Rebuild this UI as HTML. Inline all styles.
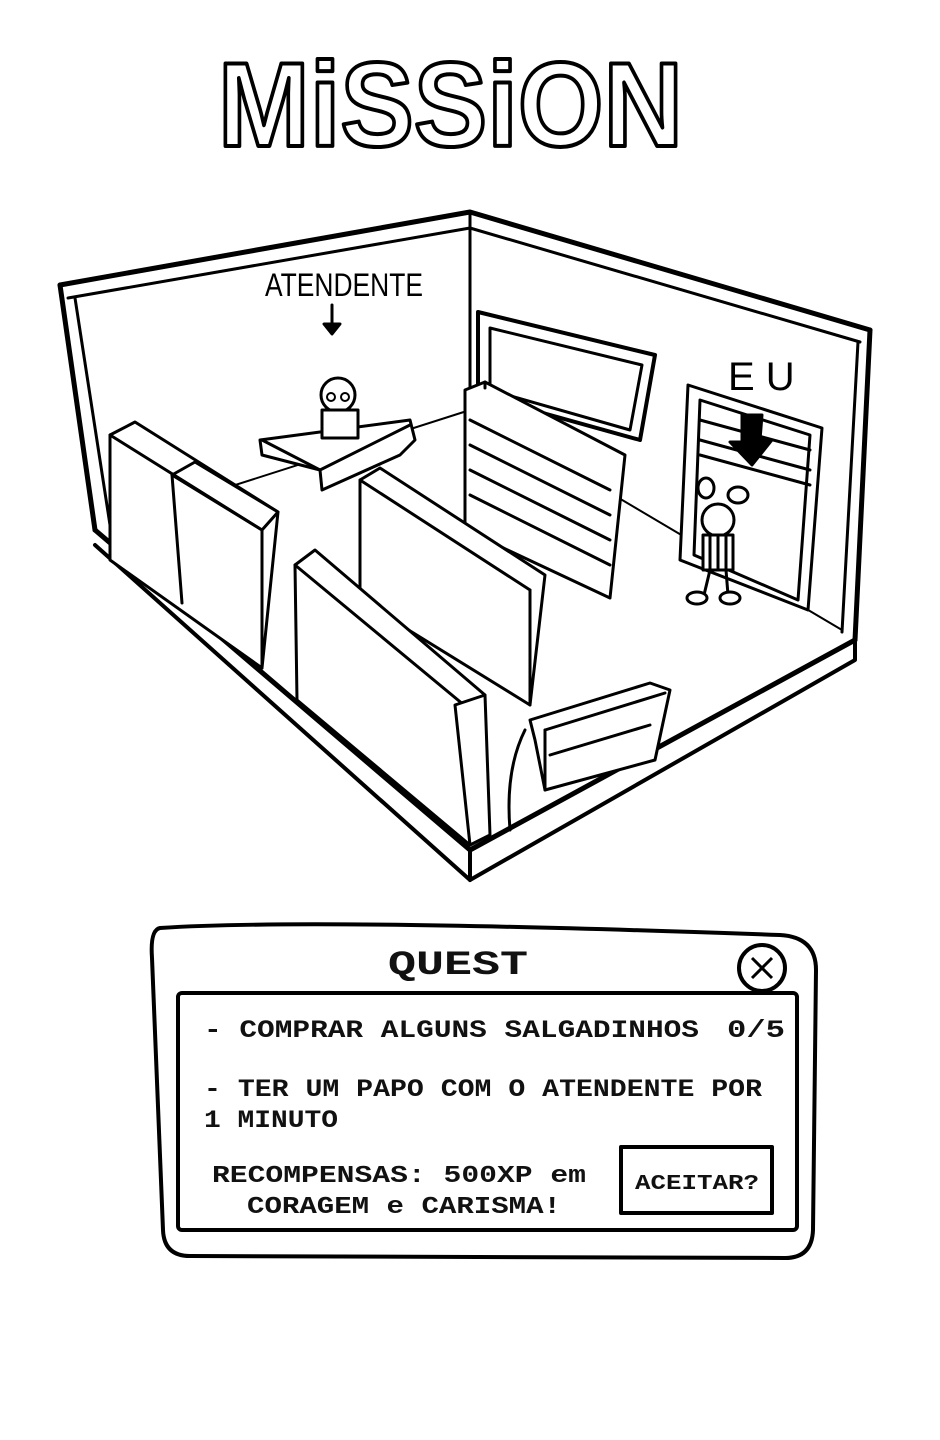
<!DOCTYPE html>
<html><head><meta charset="utf-8"><style>
html,body{margin:0;padding:0;background:#fff;width:940px;height:1440px;overflow:hidden}
svg{display:block}
.t{font-family:"Liberation Mono",monospace;font-weight:bold;fill:#111}
</style></head><body>
<svg width="940" height="1440" viewBox="0 0 940 1440" xmlns="http://www.w3.org/2000/svg">
<g fill="#fff" stroke="#000" stroke-width="3" stroke-linejoin="round" stroke-linecap="round">
<text x="218" y="146" textLength="465" lengthAdjust="spacingAndGlyphs" font-family="Liberation Sans,sans-serif" font-weight="bold" font-size="120" fill="#fff" stroke="#000" stroke-width="4">MiSSiON</text>

<polygon points="60,285 470,212 870,330 855,640 470,850 95,530" fill="#fff" stroke="none"/>
<polyline points="60,285 470,212 870,330" fill="none" stroke-width="5"/>
<polyline points="68,298 470,228 860,342" fill="none"/>
<line x1="60" y1="285" x2="95" y2="530" stroke-width="5"/>
<line x1="75" y1="298" x2="110" y2="525"/>
<line x1="870" y1="330" x2="855" y2="640" stroke-width="5"/>
<line x1="858" y1="342" x2="842" y2="632"/>
<line x1="470" y1="212" x2="470" y2="415" stroke-width="3"/>
<polyline points="95,530 470,850 855,640" fill="none" stroke-width="5"/>
<polyline points="95,545 470,880 470,850" fill="none" stroke-width="4"/>
<polyline points="470,880 855,660 855,640" fill="none" stroke-width="4"/>
<polyline points="110,525 470,410 842,630" fill="none" stroke-width="2"/>

<polygon points="478,312 655,355 640,440 478,395" stroke-width="4"/>
<polygon points="490,328 642,365 630,430 490,390"/>
<polygon points="688,385 822,428 808,610 680,560"/>
<polygon points="700,400 810,435 798,600 694,555"/>
<line x1="700" y1="420" x2="810" y2="450"/><line x1="700" y1="440" x2="810" y2="470"/><line x1="700" y1="455" x2="810" y2="485"/>

<polygon points="260,440 410,420 415,440 400,455 322,490 320,470 262,455"/>
<line x1="262" y1="440" x2="320" y2="470"/><line x1="320" y1="470" x2="410" y2="425"/>
<circle cx="338" cy="395" r="17"/>
<rect x="322" y="410" width="36" height="28"/>
<circle cx="331" cy="397" r="4" fill="none" stroke-width="2"/><circle cx="345" cy="397" r="4" fill="none" stroke-width="2"/>

<polygon points="465,390 485,382 625,455 610,598 465,530"/>
<line x1="485" y1="382" x2="485" y2="388"/>
<line x1="470" y1="420" x2="610" y2="490"/><line x1="470" y1="445" x2="610" y2="515"/><line x1="470" y1="470" x2="610" y2="540"/><line x1="470" y1="495" x2="610" y2="565"/>

<polygon points="110,435 135,422 278,512 262,668 110,560"/>
<line x1="172" y1="475" x2="182" y2="603"/>
<polygon points="172,475 195,462 278,512 262,530"/>
<line x1="110" y1="435" x2="262" y2="530"/><line x1="262" y1="530" x2="262" y2="668"/>

<polygon points="360,480 380,468 545,575 530,705 360,600"/>
<line x1="360" y1="480" x2="530" y2="590"/><line x1="530" y1="590" x2="530" y2="705"/>
<polygon points="295,565 315,550 485,695 470,845 297,700"/>
<line x1="295" y1="565" x2="470" y2="710"/><line x1="470" y1="710" x2="470" y2="845"/>
<polygon points="455,705 485,695 490,835 470,845"/>

<polygon points="530,720 650,683 670,690 655,760 545,790 535,740"/>
<line x1="545" y1="730" x2="545" y2="790"/><line x1="545" y1="730" x2="665" y2="693"/>
<line x1="550" y1="755" x2="650" y2="725"/>
<path d="M525,730 Q505,770 510,830" fill="none"/>

<circle cx="718" cy="520" r="16"/>
<ellipse cx="706" cy="488" rx="8" ry="10"/><ellipse cx="738" cy="495" rx="10" ry="8"/>
<rect x="703" y="535" width="30" height="35"/>
<line x1="710" y1="535" x2="710" y2="570"/><line x1="718" y1="535" x2="718" y2="570"/><line x1="726" y1="535" x2="726" y2="570"/>
<line x1="710" y1="570" x2="704" y2="595"/><line x1="726" y1="570" x2="728" y2="595"/>
<ellipse cx="697" cy="598" rx="10" ry="6"/><ellipse cx="730" cy="598" rx="10" ry="6"/>

<line x1="332" y1="305" x2="332" y2="330" stroke-width="3"/>
<polygon points="324,324 340,324 332,334" fill="#000"/>
<polygon points="742,415 762,415 760,440 772,440 752,465 730,442 742,442" fill="#000"/>
</g>
<text x="265" y="296" font-family="Liberation Sans,sans-serif" font-size="32" textLength="158" lengthAdjust="spacingAndGlyphs" fill="#000">ATENDENTE</text>
<text x="728" y="390" font-family="Liberation Sans,sans-serif" font-size="40" fill="#000">E U</text>

<g fill="#fff" stroke="#000" stroke-linejoin="round">
<path d="M160,928 Q310,918 780,935 Q816,937 816,970 L813,1230 Q812,1258 785,1258 L190,1256 Q164,1256 163,1230 L152,958 Q150,930 160,928 Z" stroke-width="4"/>
<rect x="178" y="993" width="619" height="237" rx="4" stroke-width="4"/>
<circle cx="762" cy="968" r="23" stroke-width="4"/>
<line x1="752" y1="958" x2="772" y2="978" stroke-width="3"/><line x1="772" y1="958" x2="752" y2="978" stroke-width="3"/>
<rect x="621" y="1147" width="151" height="66" stroke-width="4"/>
</g>
<text class="t" x="388" y="974" font-size="34" textLength="140" lengthAdjust="spacingAndGlyphs">QUEST</text>
<text class="t" x="204" y="1037" font-size="25" textLength="495" lengthAdjust="spacingAndGlyphs">- COMPRAR ALGUNS SALGADINHOS</text>
<text class="t" x="727" y="1037" font-size="25" textLength="58" lengthAdjust="spacingAndGlyphs">0/5</text>
<text class="t" x="204" y="1096" font-size="25" textLength="558" lengthAdjust="spacingAndGlyphs">- TER UM PAPO COM O ATENDENTE POR</text>
<text class="t" x="204" y="1127" font-size="25" textLength="134" lengthAdjust="spacingAndGlyphs">1 MINUTO</text>
<text class="t" x="212" y="1182" font-size="24" textLength="374" lengthAdjust="spacingAndGlyphs">RECOMPENSAS: 500XP em</text>
<text class="t" x="247" y="1213" font-size="24" textLength="314" lengthAdjust="spacingAndGlyphs">CORAGEM e CARISMA!</text>
<text class="t" x="635" y="1189" font-size="21" textLength="124" lengthAdjust="spacingAndGlyphs">ACEITAR?</text>
</svg>
</body></html>
